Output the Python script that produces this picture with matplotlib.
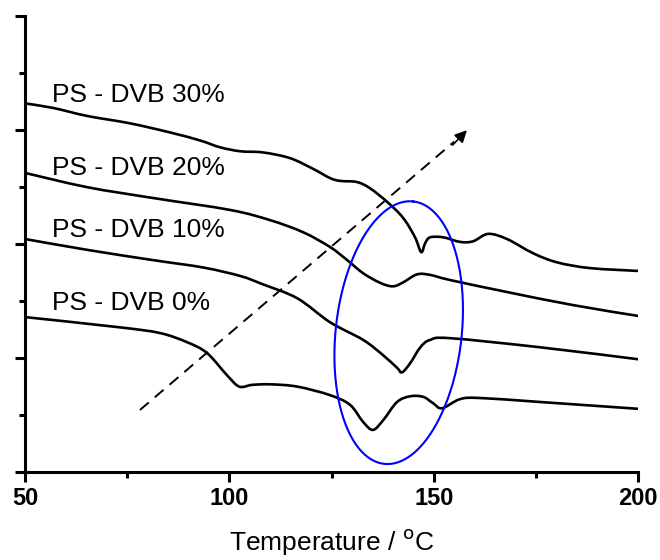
import numpy as np
import matplotlib.pyplot as plt
from matplotlib.path import Path
from matplotlib.patches import PathPatch
from matplotlib.ticker import MultipleLocator, NullFormatter

plt.rcParams['font.family'] = ['Liberation Sans', 'DejaVu Sans']

# DSC traces (temperature in C, heat flow in arbitrary units)
t_30 = [50.0, 56.9, 65.2, 75.7, 85.5, 92.8, 97.7, 102.7, 108.2, 114.8, 120.5, 124.6, 127.1,
        131.2, 134.4, 138.6, 142.5, 145.4, 146.9, 147.9, 149.1, 152.3, 156.4, 159.6, 163.3,
        167.9, 174.3, 180.2, 188.2, 200.0]
hf_30 = [6.47, 6.39, 6.25, 6.12, 5.96, 5.82, 5.70, 5.63, 5.61, 5.51, 5.32, 5.16, 5.11,
         5.09, 4.98, 4.74, 4.46, 4.12, 3.86, 4.02, 4.12, 4.12, 4.04, 4.05, 4.18,
         4.09, 3.84, 3.68, 3.58, 3.53]

t_20 = [50.0, 65.2, 81.3, 100.2, 110.0, 118.0, 124.6, 128.8, 132.7, 136.9, 140.0, 142.5,
        145.9, 149.1, 154.0, 167.9, 184.1, 200.0]
hf_20 = [5.25, 5.00, 4.81, 4.60, 4.42, 4.21, 3.95, 3.72, 3.49, 3.32, 3.26, 3.33,
         3.47, 3.46, 3.37, 3.16, 2.93, 2.74]

t_10 = [50.0, 65.2, 81.3, 93.6, 102.7, 108.0, 116.6, 124.6, 132.7, 137.6, 141.0, 142.2,
        144.2, 146.7, 149.1, 154.0, 176.0, 200.0]
hf_10 = [4.09, 3.90, 3.72, 3.59, 3.44, 3.30, 3.05, 2.63, 2.32, 2.05, 1.83, 1.75,
         1.91, 2.19, 2.32, 2.35, 2.19, 1.98]

t_0 = [50.0, 73.2, 83.0, 89.6, 94.5, 99.4, 102.4, 105.5, 110.0, 116.6, 124.6,
       129.5, 132.7, 135.1, 137.6, 141.0, 144.2, 147.4, 149.8, 152.0, 156.4, 161.3, 176.0, 200.0]
hf_0 = [2.72, 2.54, 2.44, 2.28, 2.09, 1.70, 1.50, 1.53, 1.54, 1.50, 1.35,
        1.18, 0.88, 0.74, 0.91, 1.23, 1.33, 1.32, 1.21, 1.12, 1.28, 1.30, 1.23, 1.11]

labels = ['PS - DVB 30%', 'PS - DVB 20%', 'PS - DVB 10%', 'PS - DVB 0%']
label_y = [6.49, 5.21, 4.12, 2.84]


def smooth_path(x, y):
    # catmull-rom through the read points, drawn as cubic bezier segments
    p = np.column_stack([x, y]).astype(float)
    p = np.vstack([p[0], p, p[-1]])
    verts = [p[1]]
    codes = [Path.MOVETO]
    for i in range(1, len(p) - 2):
        c1 = p[i] + (p[i + 1] - p[i - 1]) / 6.0
        c2 = p[i + 1] - (p[i + 2] - p[i]) / 6.0
        verts += [c1, c2, p[i + 1]]
        codes += [Path.CURVE4] * 3
    return Path(verts, codes)


fig = plt.figure(figsize=(6.6, 5.6), dpi=100)
ax = fig.add_axes([0.038, 0.157, 0.929, 0.814])

for t, hf in [(t_30, hf_30), (t_20, hf_20), (t_10, hf_10), (t_0, hf_0)]:
    ax.add_patch(PathPatch(smooth_path(t, hf), facecolor='none', edgecolor='black',
                           lw=1.9, joinstyle='round', capstyle='butt'))

for lab, y in zip(labels, label_y):
    ax.text(56.6, y, lab, fontsize=19, va='baseline', ha='left')

# dashed arrow
ax.plot([78.1, 155.0], [1.09, 5.80], color='black', lw=1.4, ls=(0, (6, 4)))
ax.annotate('', xy=(158.1, 6.0), xytext=(154.6, 5.74),
            arrowprops=dict(arrowstyle='-|>', color='black', lw=1.2,
                            mutation_scale=18, shrinkA=0, shrinkB=0))

# tilted ellipse (sizes in pixels, converted with axes scale)
px_x = (fig.get_figwidth() * fig.dpi * 0.929) / 150.0
px_y = (fig.get_figheight() * fig.dpi * 0.814) / 8.0
cx, cy = 141.4, 2.447
a, b, phi = 132, 63, np.radians(6.3)
tt = np.linspace(0, 2 * np.pi, 300)
ex = a * np.cos(tt) * np.sin(phi) + b * np.sin(tt) * np.cos(phi)
ey = a * np.cos(tt) * np.cos(phi) - b * np.sin(tt) * np.sin(phi)
ax.plot(cx + ex / px_x, cy + ey / px_y, color='#0000ff', lw=1.5)

ax.set_xlim(50, 200)
ax.set_ylim(0, 8)
ax.xaxis.set_major_locator(MultipleLocator(50))
ax.xaxis.set_minor_locator(MultipleLocator(25))
ax.yaxis.set_major_locator(MultipleLocator(2))
ax.yaxis.set_minor_locator(MultipleLocator(1))
ax.yaxis.set_major_formatter(NullFormatter())

for s in ['top', 'right']:
    ax.spines[s].set_visible(False)
for s in ['left', 'bottom']:
    ax.spines[s].set_linewidth(2.2)

ax.tick_params(which='major', direction='out', length=7, width=2.2)
ax.tick_params(which='minor', direction='out', length=4.5, width=2.2)
ax.tick_params(axis='x', pad=4)
for lbl in ax.get_xticklabels():
    lbl.set_fontsize(17)
    lbl.set_fontweight('bold')

ax.set_xlabel('Temperature / $^{\\mathrm{o}}$C', fontsize=19, labelpad=12)

fig.savefig('out.png', dpi=100)
